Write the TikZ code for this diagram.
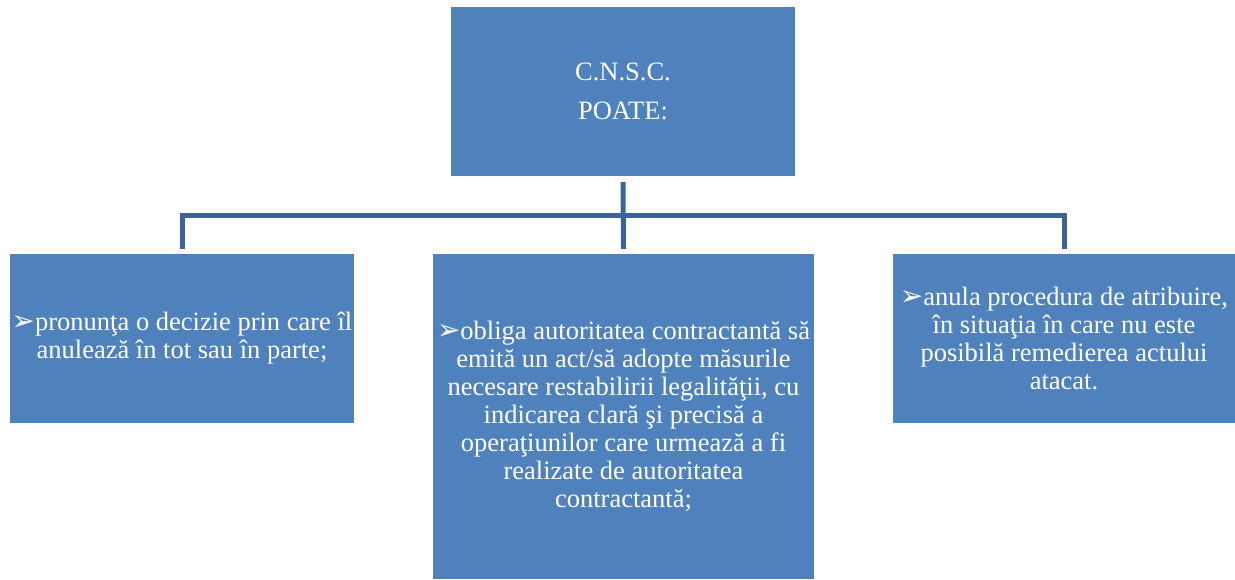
\documentclass[tikz,border=0pt]{standalone}
\usepackage{fontspec}
\setmainfont{Liberation Serif}
\newfontfamily\symfont{DejaVu Sans}
\definecolor{boxblue}{HTML}{4F81BD}
\definecolor{linkblue}{RGB}{60,100,150}
\newcommand{\arrbul}{{\symfont\fontsize{28}{28}\selectfont ➢}}
\begin{document}
\begin{tikzpicture}[x=1pt,y=-1pt,
  box/.style={fill=boxblue, draw=none, text=white, inner sep=0pt, align=center,
    font=\fontsize{26.5}{28}\selectfont},
  conn/.style={draw=linkblue, line width=5pt, line join=miter}]
\useasboundingbox (0,0) rectangle (1235,579);
\node[box, minimum width=344pt, minimum height=169pt] (top) at (623,91.5)
  {C.N.S.C.\\[11pt]POATE:};
\node[box, minimum width=344pt, minimum height=169pt] (left) at (182,338.5)
  {\arrbul pronunţa o decizie prin care îl\\anulează în tot sau în parte;};
\node[box, minimum width=381pt, minimum height=325pt] (mid) at (623.5,416.5)
  {\arrbul obliga autoritatea contractantă să\\emită un act/să adopte măsurile\\necesare restabilirii legalităţii, cu\\indicarea clară şi precisă a\\operaţiunilor care urmează a fi\\realizate de autoritatea\\contractantă;};
\node[box, minimum width=342pt, minimum height=169pt] (right) at (1064,338.5)
  {\arrbul anula procedura de atribuire,\\în situaţia în care nu este\\posibilă remedierea actului\\atacat.};
\draw[conn] ([yshift=-6pt]top.south) -- ([yshift=5pt]mid.north);
\draw[conn] ([yshift=5pt]left.north) -- ++(0,-33.5) -| ([yshift=5pt]right.north);
\end{tikzpicture}
\end{document}
